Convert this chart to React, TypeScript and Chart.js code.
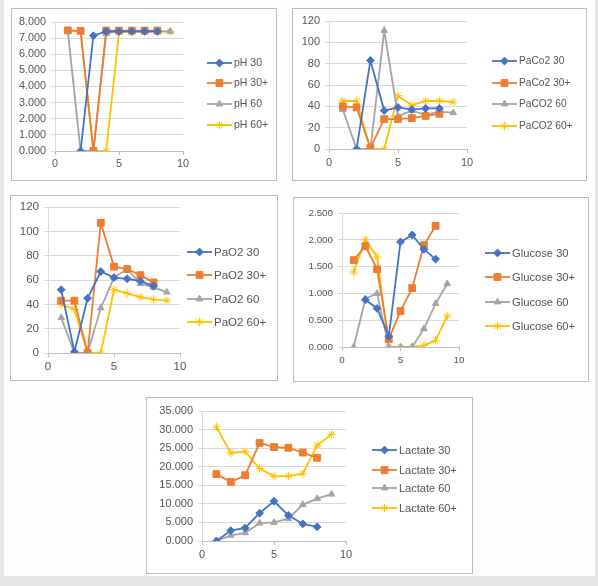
import { useEffect, useRef } from 'react'
import Chart from 'chart.js/auto'
import { drawPoint } from 'chart.js/helpers'

// sample number on the x axis
const xs = [1, 2, 3, 4, 5, 6, 7, 8, 9]

// null = no sample at that point
const ph30 = [null, 0, 7.15, 7.42, 7.42, 7.42, 7.42, 7.42]
const ph30p = [7.48, 7.45, 0, 7.47, 7.47, 7.47, 7.47, 7.47]
const ph60 = [7.45, 0, 0, 7.28, 7.45, 7.42, 7.4, 7.42, 7.42]
const ph60p = [7.45, 7.42, 0, 0, 7.36, 7.4, 7.4, 7.4, 7.42]

const paco2_30 = [null, 0, 83, 36, 39, 37, 38, 38]
const paco2_30p = [40, 39, 1, 28, 28, 29, 31, 33]
const paco2_60 = [37, 0, 0, 111, 31, 36, 32, 35, 34]
const paco2_60p = [45, 45, 0, 0, 50, 41, 45, 45, 44]

const pao2_30 = [52, 1, 45, 67, 62, 61, 59, 55]
const pao2_30p = [43, 43, 0, 107, 71, 69, 64, 58]
const pao2_60 = [29, 0, 0, 37, 62, 69, 57, 54, 50]
const pao2_60p = [40, 36, 0, 0, 52, 49, 46, 44, 43]

const glu30 = [null, 0.88, 0.72, 0.2, 1.96, 2.09, 1.82, 1.64]
const glu30p = [1.62, 1.88, 1.45, 0.15, 0.67, 1.1, 1.9, 2.26]
const glu60 = [0, 0.9, 1.0, 0, 0, 0, 0.34, 0.81, 1.18]
const glu60p = [1.4, 2.0, 1.68, 0, 0, 0, 0.03, 0.12, 0.58]

const lac30 = [0, 2.8, 3.5, 7.5, 10.7, 6.9, 4.6, 3.8]
const lac30p = [18, 15.9, 17.7, 26.4, 25.3, 25.1, 23.8, 22.4]
const lac60 = [0, 1.5, 2.2, 4.8, 5.0, 6.0, 9.8, 11.4, 12.6]
const lac60p = [30.7, 23.7, 24.1, 19.5, 17.4, 17.5, 18.1, 25.8, 28.7]

const phLabels = ['pH 30', 'pH 30+', 'pH 60', 'pH 60+']
const paco2Labels = ['PaCo2 30', 'PaCo2 30+', 'PaCO2 60', 'PaCO2 60+']
const pao2Labels = ['PaO2 30', 'PaO2 30+', 'PaO2 60', 'PaO2 60+']
const gluLabels = ['Glucose 30', 'Glucose 30+', 'Glucose 60', 'Glucose 60+']
const lacLabels = ['Lactate 30', 'Lactate 30+', 'Lactate 60', 'Lactate 60+']

const colors = ['#4472C4', '#ED7D31', '#A5A5A5', '#FFC000']
const markers = ['rectRot', 'rect', 'triangle', 'star']
const markerSize = [3.9, 4.8, 3.8, 4.2]

const FONT = '"Liberation Sans", Arial, sans-serif'
const TEXT = '#555555'

interface PanelProps {
  box: { x: number; y: number; w: number; h: number }
  plot: { l: number; t: number; r: number; b: number }
  leg: { x: number; ys: number[] }
  labels: string[]
  series: (number | null)[][]
  yMax: number
  yStep: number
  digits: number
  tickSize: number
  legSize: number
}

function Panel({ box, plot, leg, labels, series, yMax, yStep, digits, tickSize, legSize }: PanelProps) {
  const canvasRef = useRef<HTMLCanvasElement>(null)

  useEffect(() => {
    if (!canvasRef.current) return

    // legend drawn like excel: short line with the marker in the middle
    const legendPlugin = {
      id: 'lineLegend',
      afterDraw(chart: any) {
        const { ctx } = chart
        ctx.save()
        labels.forEach((lab, i) => {
          const y = leg.ys[i]
          ctx.strokeStyle = colors[i]
          ctx.fillStyle = colors[i]
          ctx.lineWidth = 1.8
          ctx.beginPath()
          ctx.moveTo(leg.x, y)
          ctx.lineTo(leg.x + 25, y)
          ctx.stroke()
          ctx.lineWidth = 1
          drawPoint(ctx, { pointStyle: markers[i], radius: markerSize[i], rotation: 0, borderWidth: 1 } as any, leg.x + 12.5, y)
          ctx.fillStyle = TEXT
          ctx.font = `${legSize}px ${FONT}`
          ctx.textBaseline = 'middle'
          ctx.textAlign = 'left'
          ctx.fillText(lab, leg.x + 27, y + 0.5)
        })
        ctx.restore()
      },
    }

    const xAxisH = 22
    const chart = new Chart(canvasRef.current, {
      type: 'scatter',
      data: {
        datasets: series.map((vals, i) => ({
          label: labels[i],
          data: vals.map((v, j) => ({ x: xs[j], y: v })),
          showLine: true,
          spanGaps: false,
          borderColor: colors[i],
          backgroundColor: colors[i],
          borderWidth: 1.8,
          pointStyle: markers[i] as any,
          pointRadius: markerSize[i],
          pointBorderWidth: 1,
        })),
      },
      options: {
        animation: false,
        responsive: false,
        layout: {
          padding: { left: 0, top: plot.t, right: box.w - plot.r, bottom: box.h - plot.b - xAxisH },
        },
        plugins: { legend: { display: false }, tooltip: { enabled: false } },
        scales: {
          x: {
            type: 'linear',
            min: 0,
            max: 10,
            ticks: { stepSize: 5, color: TEXT, font: { family: FONT, size: tickSize }, padding: 3, maxRotation: 0 },
            grid: { drawOnChartArea: false, drawTicks: true, tickLength: 4, color: '#bfbfbf' },
            border: { color: '#bfbfbf' },
            afterFit: (s: any) => { s.height = xAxisH },
          },
          y: {
            min: 0,
            max: yMax,
            ticks: {
              stepSize: yStep,
              color: TEXT,
              font: { family: FONT, size: tickSize },
              padding: 5,
              callback: (v: any) => Number(v).toFixed(digits),
            },
            grid: { color: '#d9d9d9', tickLength: 4 },
            border: { color: '#d9d9d9' },
            afterFit: (s: any) => { s.width = plot.l },
          },
        },
      },
      plugins: [legendPlugin],
    })

    return () => chart.destroy()
  }, [])

  return (
    <div
      style={{
        position: 'absolute',
        left: box.x,
        top: box.y,
        width: box.w,
        height: box.h,
        boxSizing: 'border-box',
        border: '1px solid #bcbcbc',
        background: '#fff',
      }}
    >
      <canvas
        ref={canvasRef}
        width={box.w}
        height={box.h}
        style={{ position: 'absolute', left: -1, top: -1, width: box.w, height: box.h }}
      />
    </div>
  )
}

export default function App() {
  return (
    <div style={{ position: 'absolute', left: 0, top: 0, width: 598, height: 586, background: '#e6e6e6', overflow: 'hidden' }}>
      <div style={{ position: 'absolute', left: 4, top: 0, width: 591, height: 576, background: '#fdfdfd' }} />
      <Panel
        box={{ x: 11, y: 8, w: 266, h: 173 }}
        plot={{ l: 44, t: 14, r: 172, b: 143 }}
        leg={{ x: 196, ys: [55, 75, 96, 117] }}
        labels={phLabels}
        series={[ph30, ph30p, ph60, ph60p]}
        yMax={8}
        yStep={1}
        digits={3}
        tickSize={10.8}
        legSize={10.5}
      />
      <Panel
        box={{ x: 292, y: 8, w: 295, h: 173 }}
        plot={{ l: 37, t: 13, r: 175, b: 141 }}
        leg={{ x: 200, ys: [53, 75, 96, 118] }}
        labels={paco2Labels}
        series={[paco2_30, paco2_30p, paco2_60, paco2_60p]}
        yMax={120}
        yStep={20}
        digits={0}
        tickSize={11}
        legSize={10.2}
      />
      <Panel
        box={{ x: 10, y: 195, w: 268, h: 186 }}
        plot={{ l: 38, t: 12, r: 170, b: 158 }}
        leg={{ x: 177, ys: [57, 80, 104, 127] }}
        labels={pao2Labels}
        series={[pao2_30, pao2_30p, pao2_60, pao2_60p]}
        yMax={120}
        yStep={20}
        digits={0}
        tickSize={11.5}
        legSize={11.5}
      />
      <Panel
        box={{ x: 293, y: 197, w: 296, h: 185 }}
        plot={{ l: 49, t: 16, r: 166, b: 150 }}
        leg={{ x: 192, ys: [56, 80, 105, 129] }}
        labels={gluLabels}
        series={[glu30, glu30p, glu60, glu60p]}
        yMax={2.5}
        yStep={0.5}
        digits={3}
        tickSize={9.8}
        legSize={11.2}
      />
      <Panel
        box={{ x: 146, y: 397, w: 327, h: 177 }}
        plot={{ l: 56, t: 14, r: 200, b: 144 }}
        leg={{ x: 226, ys: [53, 73, 91, 111] }}
        labels={lacLabels}
        series={[lac30, lac30p, lac60, lac60p]}
        yMax={35}
        yStep={5}
        digits={3}
        tickSize={11}
        legSize={11}
      />
    </div>
  )
}
